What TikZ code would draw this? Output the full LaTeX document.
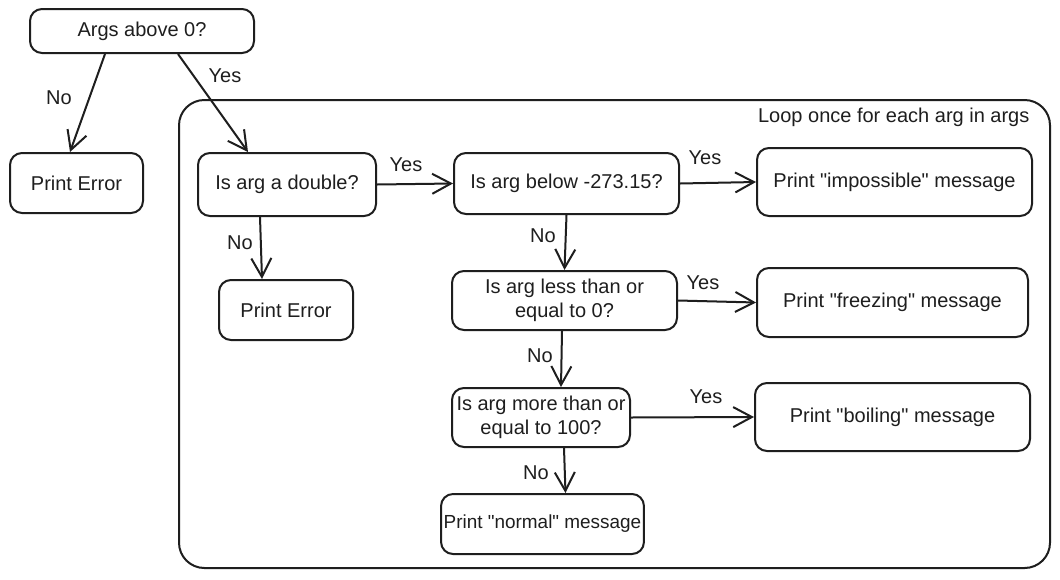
\documentclass[tikz,border=0pt]{standalone}
\usepackage{fontspec}
\setmainfont{Liberation Sans}
\usetikzlibrary{arrows.meta,calc}
\definecolor{ink}{HTML}{1E1E1E}
\newcommand{\qq}{\textquotedbl}
\begin{document}
\begin{tikzpicture}[x=0.75pt,y=-0.75pt,
  every node/.style={font=\fontsize{15}{18}\selectfont, text=ink},
  box/.style={draw=ink, line width=1.5pt, rounded corners=9pt, align=center, inner xsep=2pt, inner ysep=2pt},
  arr/.style={draw=ink, line width=1.5pt, -{Straight Barb[length=14pt,width=15pt,line width=1.5pt]}},
  lbl/.style={inner sep=1pt}
]
\useasboundingbox[fill=white] (0,0) rectangle (1060,579);
% loop container
\draw[ink, line width=1.5pt, rounded corners=19pt] (179,100) rectangle (1050,568);
\node[anchor=east, lbl] (looplbl) at (1031,117) {Loop once for each arg in args};
% nodes
\node[box, minimum width=168pt, minimum height=33pt] (A) at (142,31) {Args above 0?};
\node[box, minimum width=99.75pt, minimum height=45pt] (E1) at (76.5,183) {Print Error};
\node[box, minimum width=133.5pt, minimum height=47.25pt] (D1) at (287,184.5) {Is arg a double?};
\node[box, minimum width=100.5pt, minimum height=45pt] (E2) at (286,310) {Print Error};
\node[box, minimum width=168.75pt, minimum height=45.75pt] (D2) at (566.5,183.5) {Is arg below -273.15?};
\node[box, minimum width=206.25pt, minimum height=51pt] (P1) at (894.5,182) {Print \qq impossible\qq{} message};
\node[box, minimum width=168.75pt, minimum height=44.25pt] (D3) at (564.5,300.5) {Is arg less than or\\equal to 0?};
\node[box, minimum width=203.25pt, minimum height=51.75pt] (P2) at (892.5,302.5) {Print \qq freezing\qq{} message};
\node[box, minimum width=133.5pt, minimum height=44.25pt] (D4) at (541,417.5) {Is arg more than or\\equal to 100?};
\node[box, minimum width=206.25pt, minimum height=51pt] (P3) at (892.5,417) {Print \qq boiling\qq{} message};
\node[box, minimum width=150pt, minimum height=45pt, font=\fontsize{14.2}{17}\selectfont] (P4) at (542.5,524) {Print \qq normal\qq{} message};
% connectors
\draw[arr] ($(A.south)+(-37,0)$) -- ($(E1.north)+(-6.5,0)$);
\draw[arr] ($(A.south)+(36,0)$) -- ($(D1.north)+(-39,0)$);
\draw[arr] ($(D1.south)+(-27,0)$) -- ($(E2.north)+(-24,0)$);
\draw[arr] (D1.east) -- (D2.west);
\draw[arr] (D2.east) -- (P1.west);
\draw[arr] (D2.south) -- (D3.north);
\draw[arr] (D3.east) -- (P2.west);
\draw[arr] ($(D3.south)+(-2.5,0)$) -- ($(D4.north)+(20,0)$);
\draw[arr] (D4.east) -- (P3.west);
\draw[arr] ($(D4.south)+(23,0)$) -- ($(P4.north)+(23,0)$);
% labels
\node[lbl] (l1) at (59,98) {No};
\node[lbl] (l2) at (225,76) {Yes};
\node[lbl] (l3) at (240,243) {No};
\node[lbl] (l4) at (406,165) {Yes};
\node[lbl] (l5) at (705,158) {Yes};
\node[lbl] (l6) at (543,236) {No};
\node[lbl] (l7) at (703,283) {Yes};
\node[lbl] (l8) at (540,356) {No};
\node[lbl] (l9) at (706,397) {Yes};
\node[lbl] (l10) at (536,473) {No};
\end{tikzpicture}
\end{document}
